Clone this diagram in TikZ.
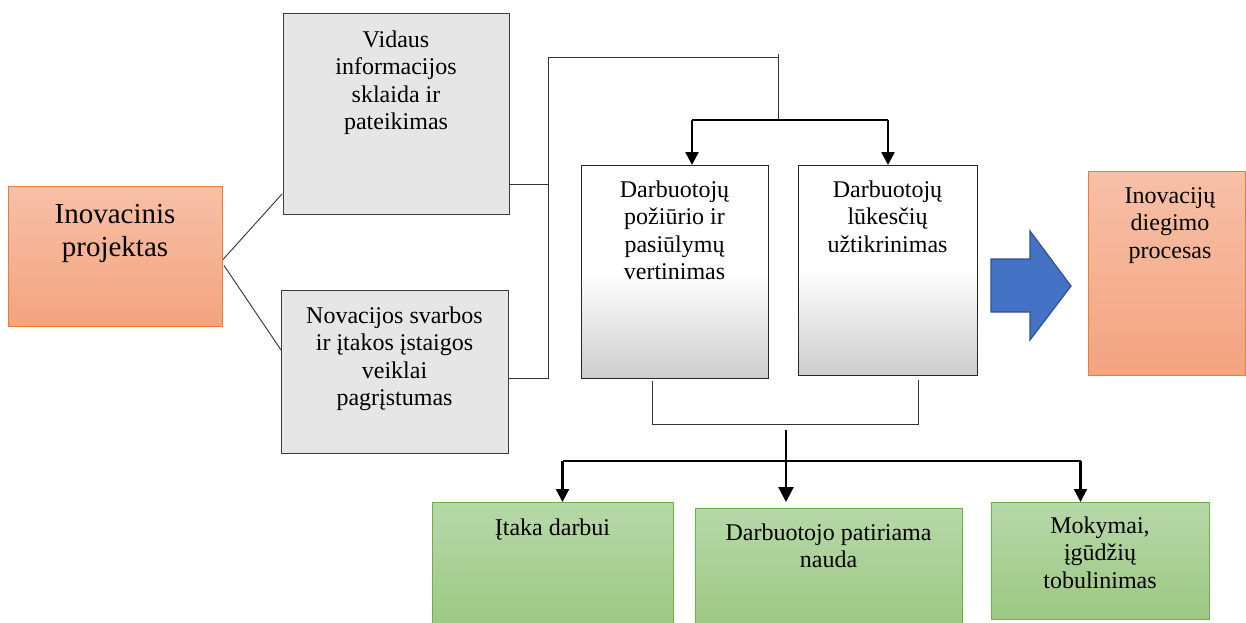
\documentclass[tikz,border=0pt]{standalone}
\usepackage{fontspec}
\setmainfont{Liberation Serif}
\usetikzlibrary{arrows.meta,calc}
\definecolor{orTop}{RGB}{247,192,167}
\definecolor{orBot}{RGB}{244,163,127}
\definecolor{orLine}{RGB}{237,125,49}
\definecolor{grFill}{RGB}{230,230,230}
\definecolor{grLine}{RGB}{60,60,60}
\definecolor{mdBot}{RGB}{205,205,205}
\definecolor{gnTop}{RGB}{183,216,169}
\definecolor{gnBot}{RGB}{157,200,130}
\definecolor{gnLine}{RGB}{112,173,71}
\definecolor{blFill}{RGB}{68,114,196}
\definecolor{blLine}{RGB}{47,82,143}
\tikzset{
  boxbase/.style={rectangle, inner sep=0pt, anchor=north west},
  orbox/.style={boxbase, draw=orLine, line width=1pt, top color=orTop, bottom color=orBot},
  graybox/.style={boxbase, draw=grLine, line width=1pt, fill=grFill},
  midbox/.style={boxbase, draw=black!85, line width=1pt, top color=white, bottom color=mdBot, middle color=white},
  greenbox/.style={boxbase, draw=gnLine, line width=1pt, top color=gnTop, bottom color=gnBot},
  txt/.style={inner sep=0pt, align=center, anchor=base, font=\fontsize{24}{27.6}\selectfont},
  bigtxt/.style={txt, font=\fontsize{29}{33}\selectfont},
  thin/.style={draw=black!80, line width=0.9pt},
  hline/.style={draw=black, line width=1.5pt},
  arr/.style={draw=black, line width=2.4pt, -{Triangle[length=13pt,width=13pt]}},
}
\begin{document}
\begin{tikzpicture}[x=1pt,y=-1pt]
\useasboundingbox (0,0) rectangle (1246,622);
% boxes
\node[orbox, minimum width=214pt, minimum height=140pt] (proj) at (8,186) {};
\node[graybox, minimum width=226pt, minimum height=201pt] (g1) at (283,13) {};
\node[graybox, minimum width=227pt, minimum height=163pt] (g2) at (281,290) {};
\node[midbox, minimum width=187pt, minimum height=213pt] (m1) at (581,165) {};
\node[midbox, minimum width=179pt, minimum height=210pt] (m2) at (798,165) {};
\node[orbox, minimum width=157pt, minimum height=204pt] (res) at (1088,171) {};
\node[greenbox, minimum width=241pt, minimum height=125pt] (gn1) at (432,502) {};
\node[greenbox, minimum width=267pt, minimum height=119pt] (gn2) at (695,508) {};
\node[greenbox, minimum width=218pt, minimum height=117pt] (gn3) at (991,502) {};
% texts (anchor base = baseline of the last line)
\node[bigtxt] (tproj) at (115,256) {Inovacinis\\projektas};
\node[txt] (tg1) at (396,129.8) {Vidaus\\informacijos\\sklaida ir\\pateikimas};
\node[txt] (tg2) at (394.5,405.8) {Novacijos svarbos\\ir įtakos įstaigos\\veiklai\\pagrįstumas};
\node[txt] (tm1) at (674.5,279.8) {Darbuotojų\\požiūrio ir\\pasiūlymų\\vertinimas};
\node[txt] (tm2) at (887.5,252.2) {Darbuotojų\\lūkesčių\\užtikrinimas};
\node[txt] (tres) at (1170,258.2) {Inovacijų\\diegimo\\procesas};
\node[txt] (tgn1) at (552.5,535) {Įtaka darbui};
\node[txt] (tgn2) at (828.5,567.6) {Darbuotojo patiriama\\nauda};
\node[txt] (tgn3) at (1100,588.2) {Mokymai,\\įgūdžių\\tobulinimas};
% blue arrow
\draw[draw=blLine, line width=1.2pt, fill=blFill, line join=miter]
  (991,259) -- (1030,259) -- (1030,231) -- (1071,286) -- (1030,340) -- (1030,312) -- (991,312) -- cycle;
% left fan
\draw[thin] ($(proj.east)+(0,3)$) -- ($(g1.south west)+(-1,-21)$);
\draw[thin] ($(proj.east)+(1,9)$) -- ($(g2.north west)+(0,60)$);
% bracket from gray boxes
\coordinate (bt) at (548,57);
\coordinate (bb) at (548,378);
\coordinate (tr) at (778,57);
\coordinate (sp) at (778,120);
\draw[thin] ($(g1.south east)+(0,-31)$) -- ($(g1.south east)+(39,-31)$);
\draw[thin] ($(g2.north east)+(0,88)$) -- (bb) -- (bt) -- (tr);
\draw[thin] ($(tr)+(0,-3)$) -- (sp);
\coordinate (a1) at ($(m1.north)+(17,0)$);
\coordinate (a2) at (m2.north);
\draw[hline] (a1 |- sp) -- (a2 |- sp);
\draw[arr] (a1 |- sp) -- (a1);
\draw[arr] (a2 |- sp) -- (a2);
% lower bracket
\coordinate (l1) at ($(m1.south)+(-22.5,2)$);
\coordinate (l2) at ($(m2.south)+(30.5,4)$);
\draw[thin] (l1) -- ($(l1)+(0,43)$) -- ($(l2 |- l1)+(0,43)$) -- (l2);
% distribution to green boxes
\coordinate (dtop) at (786,430);
\coordinate (dend) at (786,502);
\coordinate (hy) at (0,461);
\coordinate (b1) at ($(gn1.north)+(9.5,0)$);
\coordinate (b3) at ($(gn3.north)+(-20,0)$);
\draw[hline] (b1 |- hy) -- (b3 |- hy);
\draw[arr] (b1 |- hy) -- (b1);
\draw[arr] (b3 |- hy) -- (b3);
\draw[arr, -{Triangle[length=15pt,width=15pt]}] (dtop) -- (dend);
\end{tikzpicture}
\end{document}
